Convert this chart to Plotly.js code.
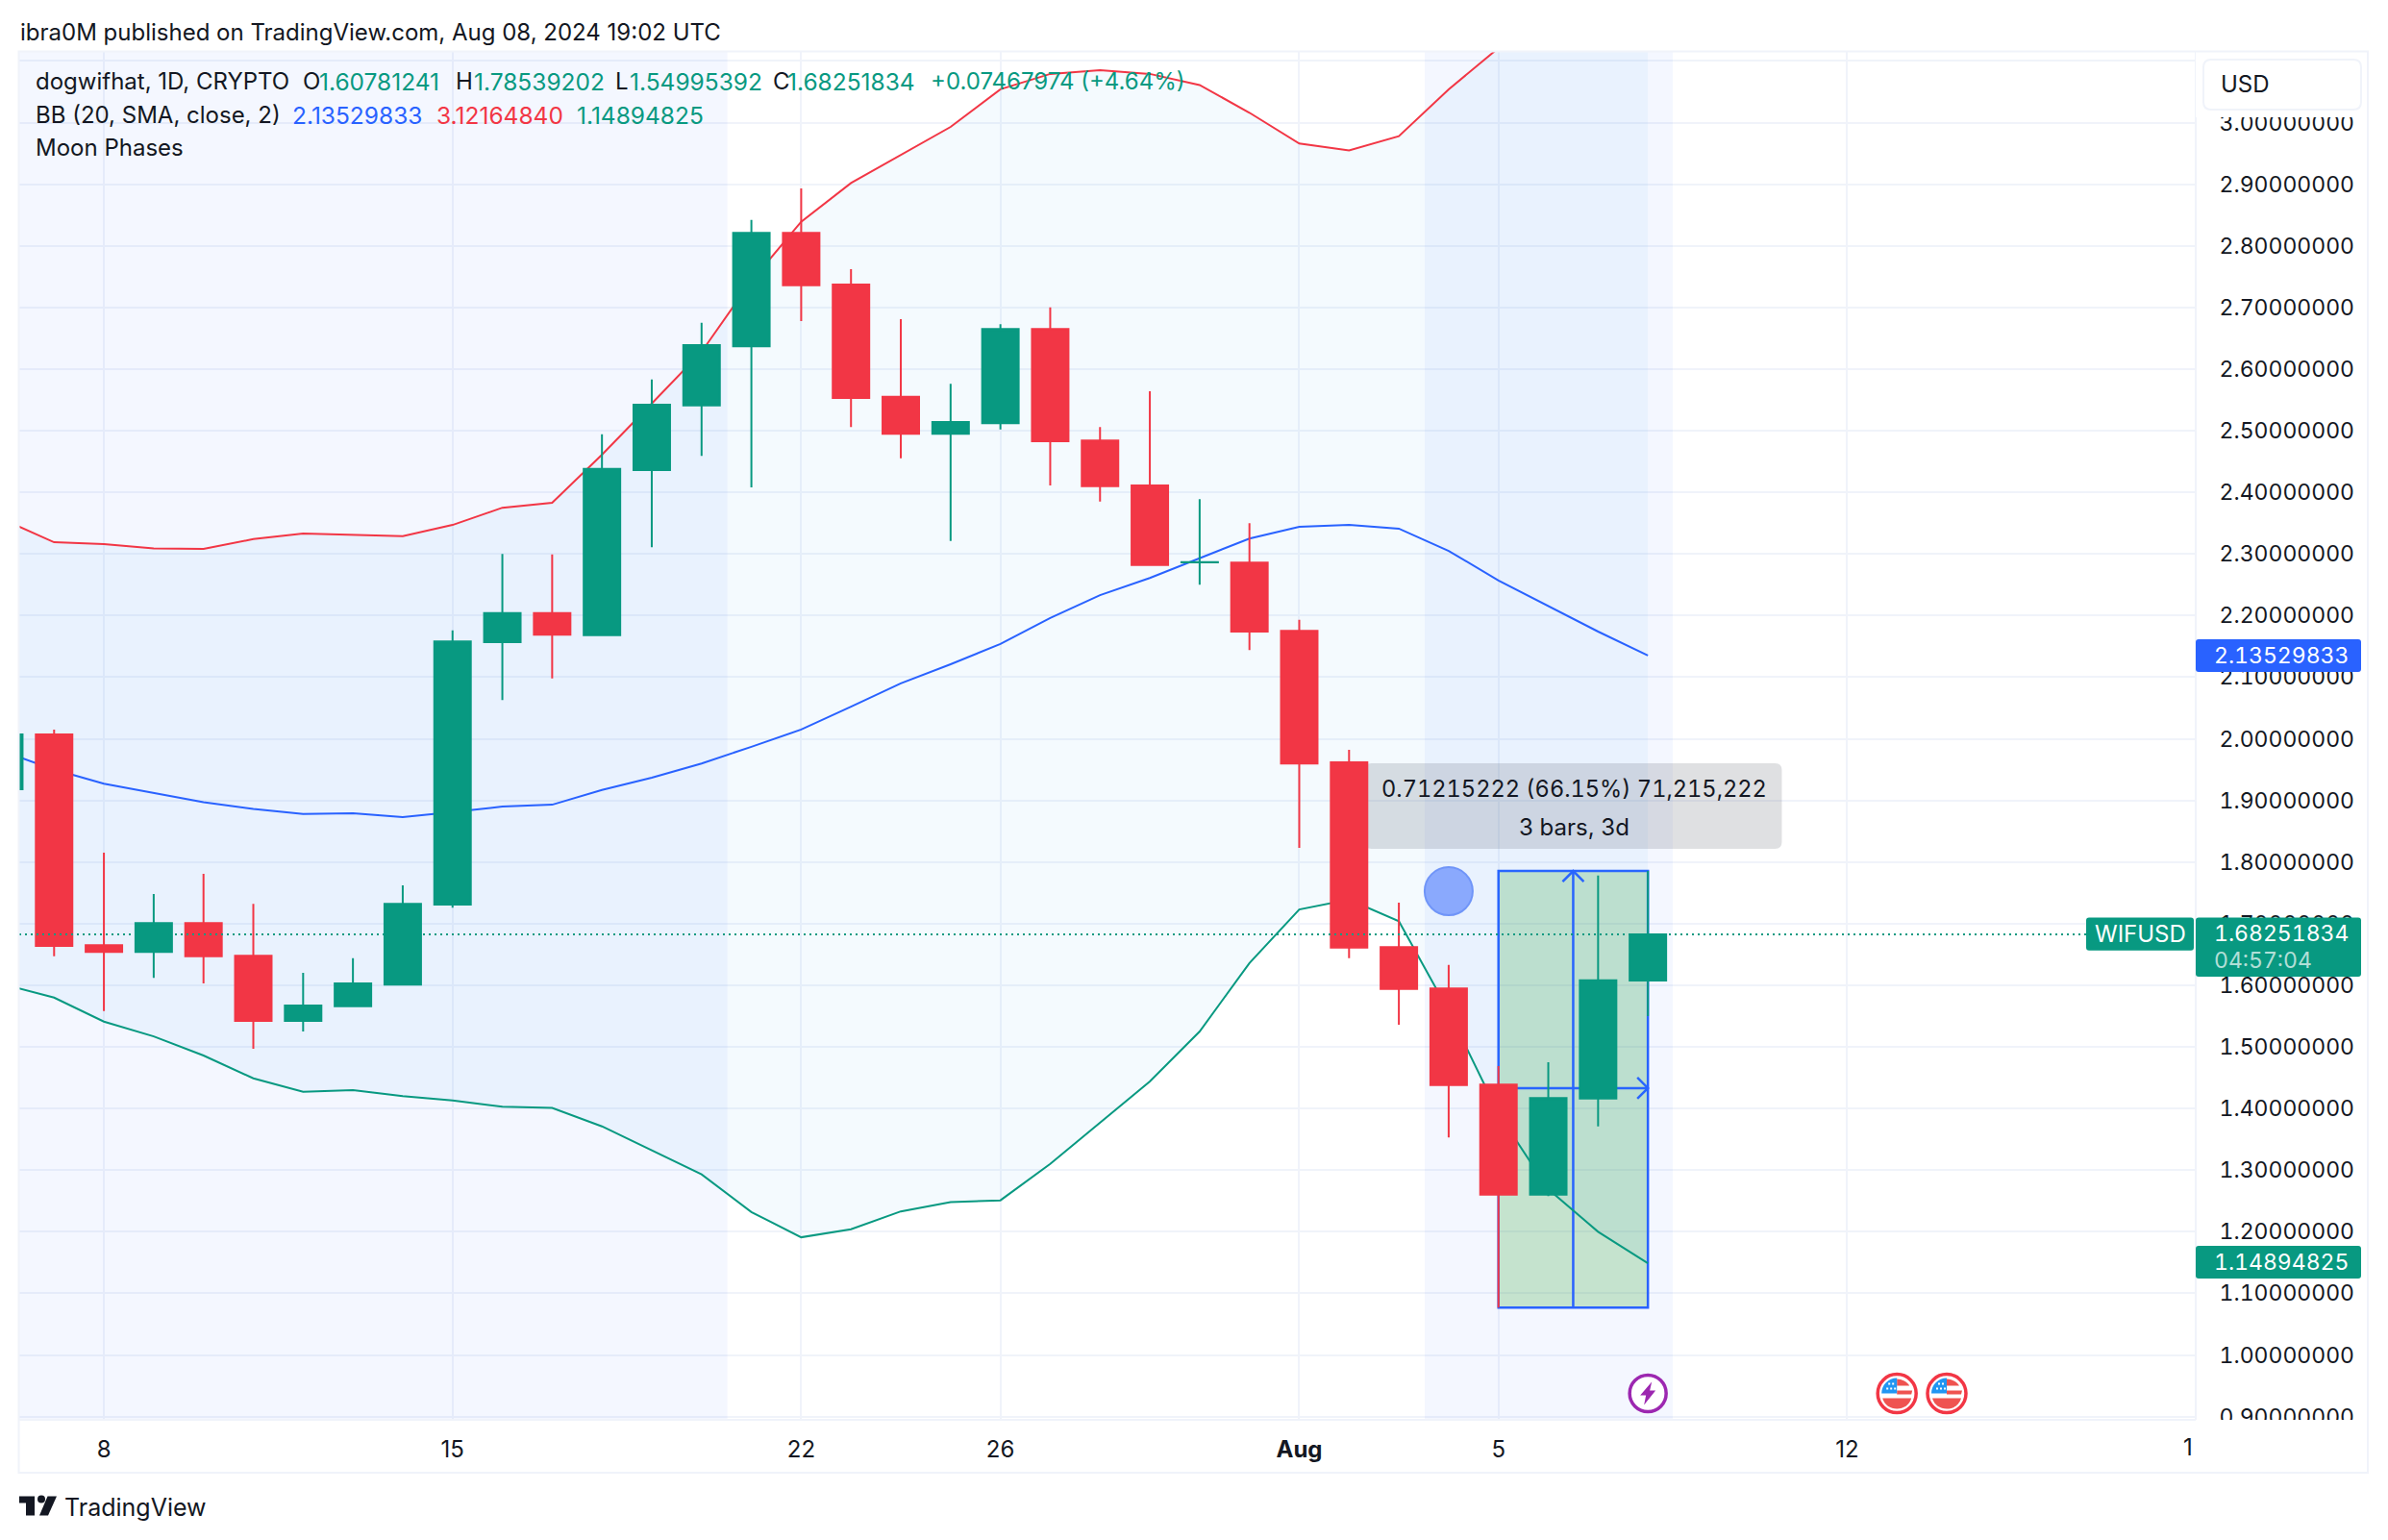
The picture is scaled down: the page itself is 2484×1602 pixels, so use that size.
<!DOCTYPE html>
<html>
<head>
<meta charset="utf-8">
<script src="https://cdn.plot.ly/plotly-3.0.1.min.js"></script>
<style>html,body{margin:0;padding:0;background:#fff}#chart{width:2484px;height:1602px}.ytick text{font-variant-numeric:tabular-nums;font-feature-settings:'tnum'}</style>
</head>
<body>
<div id="chart"></div>
<script>
const dates = ['2024-07-06','2024-07-07','2024-07-08','2024-07-09','2024-07-10','2024-07-11','2024-07-12','2024-07-13','2024-07-14','2024-07-15','2024-07-16','2024-07-17','2024-07-18','2024-07-19','2024-07-20','2024-07-21','2024-07-22','2024-07-23','2024-07-24','2024-07-25','2024-07-26','2024-07-27','2024-07-28','2024-07-29','2024-07-30','2024-07-31','2024-08-01','2024-08-02','2024-08-03','2024-08-04','2024-08-05','2024-08-06','2024-08-07','2024-08-08'];
const opens = [1.918,2.007,1.665,1.654,1.701,1.648,1.542,1.566,1.601,1.731,2.157,2.204,2.168,2.436,2.541,2.637,2.821,2.737,2.555,2.495,2.512,2.665,2.484,2.411,2.2865,2.286,2.175,1.962,1.662,1.595,1.439,1.260,1.416,1.60781241];
const highs = [2.020,2.015,1.815,1.748,1.781,1.732,1.620,1.644,1.762,2.176,2.300,2.299,2.494,2.583,2.675,2.842,2.893,2.762,2.681,2.576,2.673,2.700,2.506,2.564,2.389,2.350,2.193,1.982,1.734,1.633,1.469,1.475,1.778,1.78539202];
const lows = [1.900,1.647,1.558,1.612,1.603,1.497,1.525,1.566,1.601,1.726,2.063,2.098,2.168,2.311,2.459,2.408,2.678,2.506,2.455,2.321,2.502,2.411,2.385,2.282,2.250,2.144,1.823,1.644,1.536,1.353,1.077,1.258,1.371,1.54995392];
const closes = [2.007,1.664,1.654,1.701,1.647,1.542,1.567,1.603,1.732,2.158,2.204,2.169,2.438,2.542,2.639,2.821,2.736,2.553,2.495,2.514,2.665,2.483,2.410,2.282,2.2866,2.174,1.960,1.661,1.594,1.438,1.260,1.417,1.608,1.68251834];
const bbBasis = [1.979,1.950,1.927,1.912,1.897,1.886,1.878,1.879,1.873,1.881,1.890,1.893,1.917,1.937,1.960,1.987,2.015,2.052,2.090,2.121,2.154,2.196,2.233,2.261,2.293,2.325,2.344,2.347,2.341,2.305,2.257,2.215,2.174,2.13529833];
const bbUpper = [2.355,2.319,2.316,2.309,2.308,2.324,2.333,2.331,2.329,2.347,2.375,2.383,2.461,2.544,2.628,2.743,2.839,2.902,2.948,2.993,3.054,3.079,3.085,3.079,3.061,3.016,2.966,2.955,2.978,3.054,3.121,3.160,3.147,3.1216484];
const bbLower = [1.601,1.580,1.541,1.517,1.486,1.449,1.427,1.430,1.420,1.413,1.403,1.401,1.371,1.332,1.293,1.232,1.191,1.204,1.233,1.248,1.251,1.310,1.377,1.444,1.525,1.636,1.723,1.739,1.704,1.558,1.392,1.269,1.200,1.14894825];
const priceTicks = [0.9,1.0,1.1,1.2,1.3,1.4,1.5,1.6,1.7,1.8,1.9,2.0,2.1,2.2,2.3,2.4,2.5,2.6,2.7,2.8,2.9,3.0,3.1];
const dateTicks = ['2024-07-08','2024-07-15','2024-07-22','2024-07-26','2024-08-01','2024-08-05','2024-08-12'];
const dateTickText = ['8','15','22','26','<b>Aug</b>','5','12'];
const xRange = ['2024-07-06 07:12','2024-08-18 23:31'];
const yRange = [0.8963,3.1147];
const moonPhases = [['2024-07-06 00:00','2024-07-20 12:28'],['2024-08-03 12:28','2024-08-08 12:00']];
const moonMarker = {x:['2024-08-04'], y:[1.7527]};
const measureX = ['2024-08-05','2024-08-06 12:00','2024-08-08'];
const measureY = [1.077,1.433,1.7854];
const tooltipAnchor = {x:'2024-08-06 12:00', y:1.8908};
const lastClose = 1.68251834;

const GREEN='#089981', RED='#F23645', BLUE='#2962FF', INK='#131722', GRID='#f0f3fa', FONT='Inter';
const L=20,R=2283,T=54,B=1476;
const X=p=>(p-L)/(R-L), Y=p=>(B-p)/(B-T);
const TNUM=s=>`<span style="font-variant-numeric:tabular-nums;font-feature-settings:'tnum'">${s}</span>`;
const ann=(px,py,text,color,size,anchor,extra)=>Object.assign({xref:'paper',yref:'paper',x:X(px),y:Y(py),text,showarrow:false,
  xanchor:anchor||'left',yanchor:'middle',font:{family:FONT,size:size||22,color:color||INK},borderpad:0,borderwidth:0},extra||{});
const rrect=(x0,y0,x1,y1,r,fill,line,layer)=>({type:'path',xref:'paper',yref:'paper',layer:layer||'above',fillcolor:fill,line:{color:line||fill,width:line?2:0},
  path:`M${X(x0+r)},${Y(y0)} L${X(x1-r)},${Y(y0)} Q${X(x1)},${Y(y0)} ${X(x1)},${Y(y0+r)} L${X(x1)},${Y(y1-r)} Q${X(x1)},${Y(y1)} ${X(x1-r)},${Y(y1)} L${X(x0+r)},${Y(y1)} Q${X(x0)},${Y(y1)} ${X(x0)},${Y(y1-r)} L${X(x0)},${Y(y0+r)} Q${X(x0)},${Y(y0)} ${X(x0+r)},${Y(y0)} Z`});
const box=(x0,y0,x1,y1,fill,line)=>({type:'rect',xref:'paper',yref:'paper',layer:'above',x0:X(x0),x1:X(x1),y0:Y(y0),y1:Y(y1),fillcolor:fill,line:line?{color:line,width:2}:{width:0}});
const poly=(pts,fill)=>({type:'path',xref:'paper',yref:'paper',layer:'above',fillcolor:fill,line:{width:0},path:'M'+pts.map(p=>`${X(p[0])},${Y(p[1])}`).join(' L')+' Z'});
const pixShape=(xv,yv,o)=>Object.assign({xref:'x',yref:'y',xsizemode:'pixel',ysizemode:'pixel',xanchor:xv,yanchor:yv,layer:'above'},o);
const iconY=0.9376;
const circleAt=(xv,r,fill,color,w)=>pixShape(xv,iconY,{type:'circle',x0:-r,x1:r,y0:-r,y1:r,fillcolor:fill,line:{color,width:w}});
const pathAt=(xv,path,fill)=>pixShape(xv,iconY,{type:'path',path,fillcolor:fill,line:{width:0}});
const flag=(xv)=>[
  circleAt(xv,20,'#ffffff',RED,3.5),
  pathAt(xv,'M-15,-5 L15,-5 C13,-12 7,-16 0,-16 C-7,-16 -13,-12 -15,-5 Z','#ef5350'),
  pathAt(xv,'M0,15 C5,15 11,12 13,8 L0,8 Z M0,3 L16,3 L15,-1 L0,-1 Z','#ef5350'),
  pathAt(xv,'M-16,0 L0,0 L0,16 C-9,16 -16,9 -16,0 Z','#2196f3'),
  pathAt(xv,'M-11,4 L-9,4 L-9,6 L-11,6 Z M-7,4 L-5,4 L-5,6 L-7,6 Z M-3,4 L-1,4 L-1,6 L-3,6 Z M-9,9 L-7,9 L-7,11 L-9,11 Z M-5,9 L-3,9 L-3,11 L-5,11 Z','#ffffff')
];

const shapes=[
  ...moonPhases.map(m=>({type:'rect',xref:'x',yref:'y',layer:'between',x0:m[0],x1:m[1],y0:yRange[0],y1:yRange[1],fillcolor:'rgba(41,98,255,0.05)',line:{width:0}})),
  {type:'path',xref:'x',yref:'y',xsizemode:'pixel',ysizemode:'pixel',xanchor:tooltipAnchor.x,yanchor:tooltipAnchor.y,layer:'between',
    fillcolor:'rgba(106,109,120,0.21)',line:{width:0},path:'M-210,44.5 L210,44.5 Q217,44.5 217,37.5 L217,-37.5 Q217,-44.5 210,-44.5 L-210,-44.5 Q-217,-44.5 -217,-37.5 L-217,37.5 Q-217,44.5 -210,44.5 Z'},
  {type:'rect',xref:'x',yref:'y',layer:'between',x0:measureX[0],x1:measureX[2],y0:measureY[0],y1:measureY[2],fillcolor:'rgba(76,175,80,0.28)',line:{color:BLUE,width:2.5}},
  {type:'line',xref:'x',yref:'y',layer:'between',x0:measureX[1],x1:measureX[1],y0:measureY[0],y1:measureY[2],line:{color:BLUE,width:2.5}},
  {type:'line',xref:'x',yref:'y',layer:'between',x0:measureX[0],x1:measureX[2],y0:measureY[1],y1:measureY[1],line:{color:BLUE,width:2.5}},
  {type:'path',xref:'x',yref:'y',xsizemode:'pixel',ysizemode:'pixel',xanchor:measureX[1],yanchor:measureY[2],layer:'between',path:'M-11,-11 L0,0 L11,-11',line:{color:BLUE,width:2.5}},
  {type:'path',xref:'x',yref:'y',xsizemode:'pixel',ysizemode:'pixel',xanchor:measureX[2],yanchor:measureY[1],layer:'between',path:'M-11,11 L0,0 L-11,-11',line:{color:BLUE,width:2.5}},
  {type:'line',xref:'paper',yref:'y',layer:'above',x0:0,x1:X(2170),y0:lastClose,y1:lastClose,line:{color:GREEN,width:2,dash:'2px,4px'}},
  // axis-strip masks that clip the outermost tick labels
  box(2284,40,2461,122,'#ffffff'),
  box(2284,1477,2461,1496,'#ffffff'),
  rrect(2292,62,2456,114,8,'#ffffff',GRID),
  // price badges
  rrect(2170,954.6,2282,988.7,3,GREEN),
  rrect(2284,954.6,2456,1016,3,GREEN),
  rrect(2284,665,2456,699,3,BLUE),
  rrect(2284,1296,2456,1330,3,GREEN),
  // frame
  box(19.5,53.5,2463,1532,'rgba(0,0,0,0)',GRID),
  // event icons
  circleAt('2024-08-08',19,'#ffffff','#9C27B0',3.5),
  pathAt('2024-08-08','M4,12 L-8,-2 L-2,-2 L-4,-12 L8,3 L2,3 Z','#9C27B0'),
  ...flag('2024-08-13'),
  ...flag('2024-08-14'),
  // TradingView logo
  poly([[20,1556.5],[36,1556.5],[36,1576.5],[27,1576.5],[27,1563.5],[20,1563.5]],INK),
  {type:'circle',xref:'paper',yref:'paper',layer:'above',x0:X(39),x1:X(47),y0:Y(1555.5),y1:Y(1563.5),fillcolor:INK,line:{width:0}},
  poly([[49.5,1556.5],[59,1556.5],[50,1576.5],[41,1576.5]],INK)
];

const annotations=[
  ann(21,33,'ibra0M published on TradingView.com, Aug 08, 2024 19:02 UTC',INK,24),
  ann(36.5,85,'dogwifhat, 1D, CRYPTO',INK,24),
  ann(315,85,'O',INK,24), ann(332,85,'1.60781241',GREEN,24.5),
  ann(474,85,'H',INK,24), ann(492.5,85,'1.78539202',GREEN,24.5),
  ann(640,85,'L',INK,24), ann(655,85,'1.54995392',GREEN,24.5),
  ann(804,85,'C',INK,24), ann(819,85,'1.68251834',GREEN,24.5),
  ann(968,85,'+0.07467974 (+4.64%)',GREEN,24),
  ann(36.5,120,'BB (20, SMA, close, 2)',INK,24),
  ann(304,120,'2.13529833',BLUE,24.5), ann(454,120,'3.12164840',RED,24.5), ann(600,120,'1.14894825',GREEN,24.5),
  ann(36.5,154,'Moon Phases',INK,24),
  ann(1637,820,TNUM('0.71215222 (66.15%) 71,215,222'),INK,23.6,'center'),
  ann(1637,860,'3 bars, 3d',INK,24,'center'),
  ann(2310,88,'USD',INK,24),
  ann(2226,971.5,'WIFUSD','#ffffff',24,'center'),
  ann(2303,971,TNUM('1.68251834'),'#ffffff',23),
  ann(2303,999,TNUM('04:57:04'),'rgba(255,255,255,0.7)',23),
  ann(2303,682,TNUM('2.13529833'),'#ffffff',23),
  ann(2303,1313,TNUM('1.14894825'),'#ffffff',23),
  ann(2276,1505,'1',INK,24,'center'),
  ann(67,1568,'TradingView',INK,25)
];

const traces=[
  {type:'scatter',mode:'lines',x:dates,y:bbLower,line:{color:GREEN,width:2},hoverinfo:'skip'},
  {type:'scatter',mode:'lines',x:dates,y:bbUpper,line:{color:RED,width:2},fill:'tonexty',fillcolor:'rgba(33,150,243,0.05)',hoverinfo:'skip'},
  {type:'scatter',mode:'lines',x:dates,y:bbBasis,line:{color:BLUE,width:2},hoverinfo:'skip'},
  {type:'scatter',mode:'markers',x:moonMarker.x,y:moonMarker.y,marker:{size:50,color:'#8AA9FD',line:{color:'#7095f8',width:2}},hoverinfo:'skip'},
  {type:'candlestick',x:dates,open:opens,high:highs,low:lows,close:closes,xaxis:'x2',yaxis:'y2',
    increasing:{line:{color:GREEN,width:2},fillcolor:GREEN},decreasing:{line:{color:RED,width:2},fillcolor:RED},whiskerwidth:0,hoverinfo:'skip'}
];

const layout={
  width:2484,height:1602,paper_bgcolor:'#ffffff',plot_bgcolor:'#ffffff',showlegend:false,hovermode:false,
  margin:{l:L,r:2484-R,t:T,b:1602-B,pad:0},boxgap:0.267,boxgroupgap:0,
  font:{family:FONT,color:INK},
  xaxis:{type:'date',range:xRange,tickmode:'array',tickvals:dateTicks,ticktext:dateTickText,showgrid:true,gridcolor:GRID,gridwidth:2,zeroline:false,
    showline:true,linecolor:GRID,linewidth:2,ticks:'',ticklabelstandoff:9,tickfont:{family:FONT,size:24,color:INK},tickangle:0,fixedrange:true},
  yaxis:{side:'right',range:yRange,tickmode:'array',tickvals:priceTicks,tickformat:'.8f',showgrid:true,gridcolor:GRID,gridwidth:2,zeroline:false,
    showline:true,linecolor:GRID,linewidth:2,ticks:'',ticklabelstandoff:19,tickfont:{family:FONT,size:23,color:INK},fixedrange:true},
  xaxis2:{type:'date',overlaying:'x',anchor:'y2',range:xRange,visible:false,rangeslider:{visible:false},fixedrange:true},
  yaxis2:{overlaying:'y',anchor:'x2',side:'right',range:yRange,visible:false,fixedrange:true},
  shapes,annotations
};
Plotly.newPlot('chart',traces,layout,{displayModeBar:false,staticPlot:true});
</script>
</body>
</html>
